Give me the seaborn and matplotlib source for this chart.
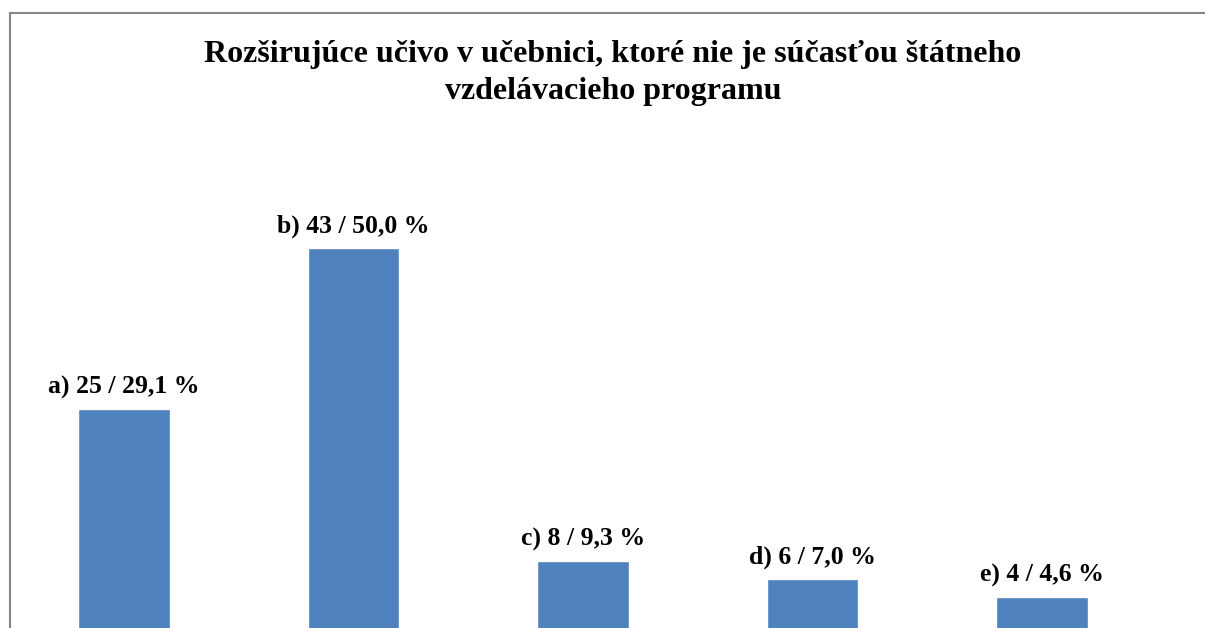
import numpy as np
import matplotlib.pyplot as plt
import seaborn as sns
from matplotlib.patches import Rectangle

# chart data
categories = ["a", "b", "c", "d", "e"]
counts = [25, 43, 8, 6, 4]
percents = ["29,1", "50,0", "9,3", "7,0", "4,6"]
title_lines = ["Rozširujúce učivo v učebnici, ktoré nie je súčasťou štátneho",
               "vzdelávacieho programu"]

BAR_COLOR = "#4F81BD"
W, H = 1205, 628

sns.set_style("white")
plt.rcParams['font.family'] = ['Liberation Serif', 'DejaVu Serif']
plt.rcParams['text.color'] = 'black'

fig = plt.figure(figsize=(W / 100, H / 100), dpi=100)

# axes placed so bars sit where they do in the picture (baseline just below the bottom edge)
px_per_unit = 8.95
ax_left, ax_w = 9.25, 1147.5
ax_bottom = -5
ax_h = 50 * px_per_unit
ax = fig.add_axes([ax_left / W, ax_bottom / H, ax_w / W, ax_h / H])
ax.patch.set_alpha(0)

sns.barplot(x=categories, y=counts, color=BAR_COLOR, width=0.4,
            saturation=1, ax=ax)
ax.set_xlim(-0.5, 4.5)
ax.set_ylim(0, 50)
ax.set_axis_off()

for i, (cat, n, p) in enumerate(zip(categories, counts, percents)):
    ax.annotate(f"{cat}) {n} / {p} %", xy=(i, n), xytext=(0, 16),
                textcoords="offset pixels", ha="center", va="baseline",
                fontsize=18.5, fontweight="bold", color="black")

# title, two centred lines
fig.text(613 / W, 1 - 62 / H, title_lines[0], ha="center", va="baseline",
         fontsize=23, fontweight="bold", color="black")
fig.text(613 / W, 1 - 99 / H, title_lines[1], ha="center", va="baseline",
         fontsize=23, fontweight="bold", color="black")

# grey chart-area border, running off the right and bottom edges
fig.patches.append(Rectangle((10, -20), 1300, H - 13 + 20, transform=None,
                             fill=False, edgecolor="#868686", linewidth=1.5))

fig.savefig("out.png", dpi=100)
